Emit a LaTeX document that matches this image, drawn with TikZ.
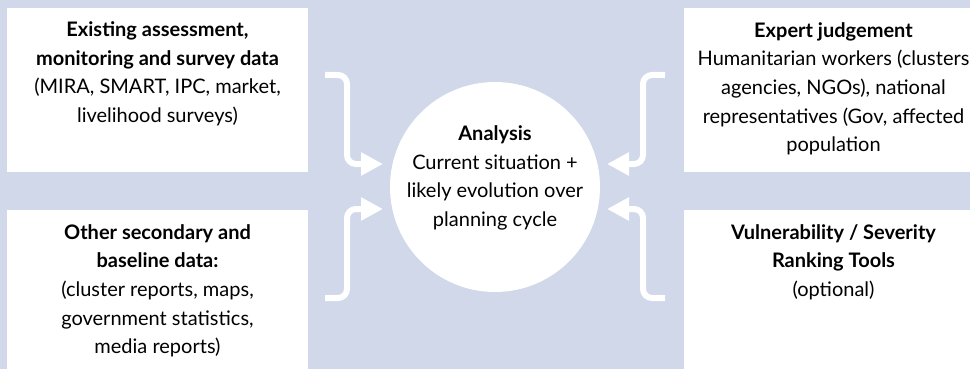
\documentclass[tikz,border=0pt]{standalone}
\usepackage{fontspec}
\setmainfont{Lato}
\usetikzlibrary{arrows.meta}
\definecolor{bgblue}{RGB}{208,216,234}
\tikzset{
  box/.style={fill=white, draw=none, inner sep=0pt, outer sep=0pt},
  txt/.style={align=center, inner sep=0pt, anchor=north, font=\fontsize{20}{28.7}\selectfont},
  feed/.style={draw=white, line width=6pt, rounded corners=9pt, -{Triangle[length=22pt,width=22pt]}}
}
\begin{document}
\begin{tikzpicture}[x=1pt, y=-1pt]
\useasboundingbox (0,0) rectangle (970,369);
\clip (0,0) rectangle (970,369);
\fill[bgblue] (0,0) rectangle (970,369);
% boxes
\node[box, minimum width=301pt, minimum height=164pt] (tl) at (157.5,90) {};
\node[box, minimum width=301pt, minimum height=165pt] (bl) at (157.5,292.5) {};
\node[box, minimum width=299pt, minimum height=164pt] (tr) at (833.5,90) {};
\node[box, minimum width=299pt, minimum height=165pt] (br) at (833.5,292.5) {};
\node[circle, fill=white, minimum size=210pt, inner sep=0pt] (c) at (495,187) {};
% texts
\node[txt] (ttl) at (157.5,21.5) {\textbf{Existing assessment,}\\ \textbf{monitoring and survey data}\\ (MIRA, SMART, IPC, market,\\ livelihood surveys)};
\node[txt] (ttr) at (833.5,22) {\textbf{Expert judgement}\\ Humanitarian workers (clusters\\ agencies, NGOs), national\\ representatives (Gov, affected\\ population};
\node[txt] (tbl) at (157.5,224) {\textbf{Other secondary and}\\ \textbf{baseline data:}\\ (cluster reports, maps,\\ government statistics,\\ media reports)};
\node[txt] (tbr) at (833.5,224) {\textbf{Vulnerability / Severity}\\ \textbf{Ranking Tools}\\ (optional)};
\node[txt] (tc) at (495,125.5) {\textbf{Analysis}\\ Current situation +\\ likely evolution over\\ planning cycle};
% connector ends
\coordinate (s1) at (325,75);
\coordinate (s2) at (325,298);
\coordinate (s3) at (665,75);
\coordinate (s4) at (665,298);
\coordinate (e1) at (383,164);
\coordinate (e2) at (383,209);
\coordinate (e3) at (607,164);
\coordinate (e4) at (607,209);
\draw[feed] (s1) -- (347,75) -- (347,164) -- (e1);
\draw[feed] (s2) -- (347,298) -- (347,209) -- (e2);
\draw[feed] (s3) -- (643,75) -- (643,164) -- (e3);
\draw[feed] (s4) -- (643,298) -- (643,209) -- (e4);
\end{tikzpicture}
\end{document}
